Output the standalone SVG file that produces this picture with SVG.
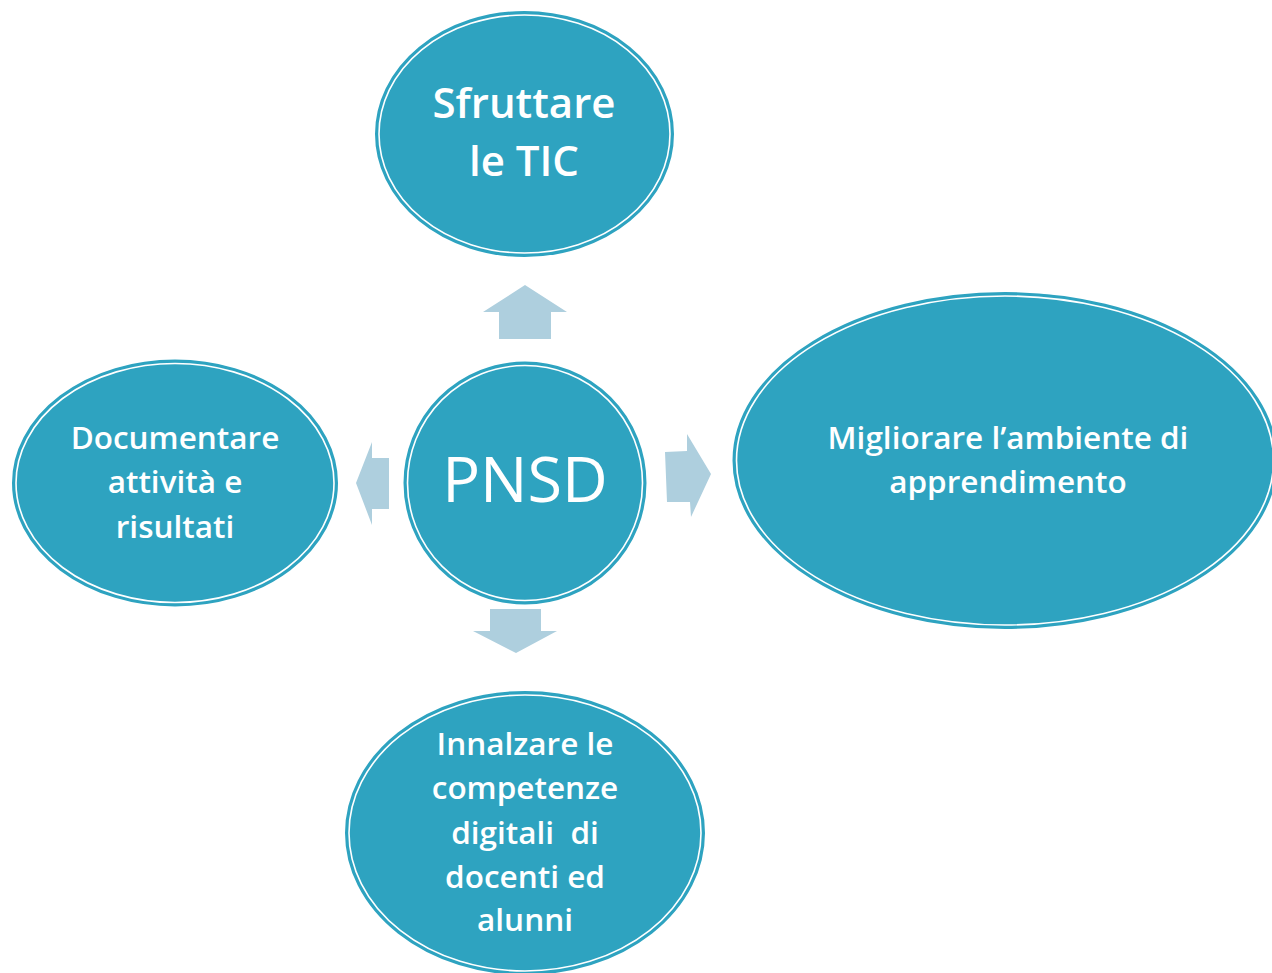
<svg xmlns="http://www.w3.org/2000/svg" width="1272" height="973" viewBox="0 0 1272 973">
<style>
.shape{fill:#2ea3c0;stroke:#2ea3c0;stroke-width:2}
.ring{fill:none;stroke:#ffffff;stroke-width:1.6}
.arrow{fill:#aecfde}
text{font-family:"Open Sans","Noto Sans","DejaVu Sans",sans-serif;fill:#ffffff;text-anchor:middle}
.lbl{font-size:31.5px;font-weight:600}
</style>
<rect width="1272" height="973" fill="#ffffff"/>
<g id="connectors">
<polygon class="arrow" points="525,285 567,312 551,312 551,339 499,339 499,312 483,312"/>
<polygon class="arrow" points="490,609 541,609 541,631 557,631 516,653 473,631 490,631"/>
<polygon class="arrow" points="665,452 687,451 687,434 711,474 691,517 690,502 667,502"/>
<polygon class="arrow" points="356,483 372,442 372,458 389,458 389,509 372,509 372,525"/>
</g>
<g id="node-top">
<ellipse class="shape" cx="524.5" cy="134" rx="148.5" ry="122"/>
<ellipse class="ring" cx="524.5" cy="134" rx="145.5" ry="119"/>
<text font-size="42" font-weight="600" x="524" y="118">Sfruttare</text>
<text font-size="42" font-weight="600" x="524" y="176">le TIC</text>
</g>
<g id="node-center">
<circle class="shape" cx="525" cy="483" r="120.5"/>
<circle class="ring" cx="525" cy="483" r="117.5"/>
<text font-size="63" x="525" y="502">PNSD</text>
</g>
<g id="node-right">
<ellipse class="shape" cx="1005" cy="460.5" rx="271.5" ry="167.5"/>
<ellipse class="ring" cx="1005" cy="460.5" rx="268.5" ry="164.5"/>
<text class="lbl" font-size="32.5" x="1008" y="449">Migliorare l’ambiente di</text>
<text class="lbl" font-size="32.5" x="1008" y="493">apprendimento</text>
</g>
<g id="node-left">
<ellipse class="shape" cx="175" cy="483" rx="162" ry="122.5"/>
<ellipse class="ring" cx="175" cy="483" rx="159" ry="119.5"/>
<text class="lbl" x="175" y="449">Documentare</text>
<text class="lbl" x="175" y="493">attività e</text>
<text class="lbl" x="175" y="538">risultati</text>
</g>
<g id="node-bottom">
<ellipse class="shape" cx="525" cy="833" rx="179" ry="141"/>
<ellipse class="ring" cx="525" cy="833" rx="176" ry="138"/>
<text class="lbl" x="525" y="755">Innalzare le</text>
<text class="lbl" x="525" y="799">competenze</text>
<text class="lbl" x="525" y="844" xml:space="preserve">digitali  di</text>
<text class="lbl" x="525" y="888">docenti ed</text>
<text class="lbl" x="525" y="931">alunni</text>
</g>
</svg>
